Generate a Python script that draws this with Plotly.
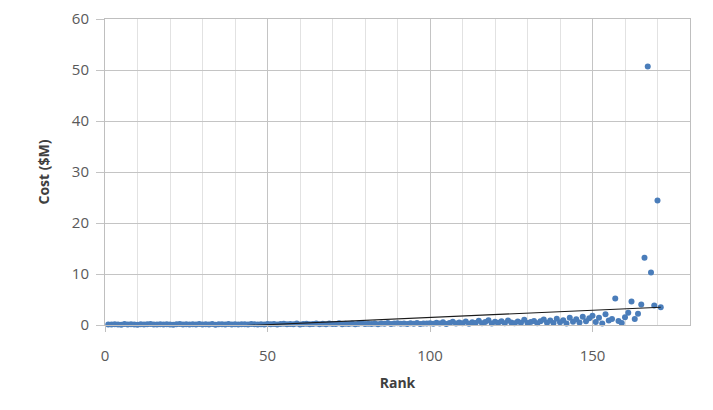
import numpy as np
import plotly.graph_objects as go

ranks = list(range(1, 172))

cost_1_50 = [0.12, 0.08, 0.15, 0.10, 0.05, 0.18, 0.09, 0.14, 0.11, 0.07,
             0.16, 0.10, 0.13, 0.20, 0.08, 0.12, 0.17, 0.09, 0.14, 0.11,
             0.06, 0.15, 0.19, 0.10, 0.13, 0.08, 0.16, 0.12, 0.21, 0.09,
             0.14, 0.11, 0.18, 0.07, 0.13, 0.16, 0.10, 0.22, 0.12, 0.15,
             0.09, 0.17, 0.13, 0.11, 0.20, 0.14, 0.08, 0.16, 0.12, 0.19]
cost_51_100 = [0.15, 0.22, 0.11, 0.18, 0.25, 0.13, 0.20, 0.16, 0.28, 0.12,
               0.19, 0.24, 0.14, 0.21, 0.30, 0.17, 0.23, 0.15, 0.27, 0.20,
               0.18, 0.32, 0.14, 0.25, 0.21, 0.29, 0.17, 0.24, 0.35, 0.19,
               0.26, 0.22, 0.31, 0.16, 0.28, 0.24, 0.37, 0.20, 0.27, 0.33,
               0.23, 0.30, 0.18, 0.36, 0.26, 0.40, 0.22, 0.31, 0.28, 0.34]
cost_101_149 = [0.25, 0.45, 0.30, 0.55, 0.20, 0.38, 0.62, 0.28, 0.48, 0.35,
                0.70, 0.26, 0.52, 0.40, 0.85, 0.33, 0.58, 0.95, 0.30, 0.65,
                0.42, 0.75, 0.36, 0.90, 0.50, 0.32, 0.68, 0.45, 1.05, 0.38,
                0.60, 0.80, 0.34, 0.72, 1.10, 0.46, 0.88, 0.40, 1.25, 0.55,
                0.95, 0.30, 1.40, 0.65, 1.15, 0.50, 1.60, 0.75, 1.30]
cost_150_171 = [1.80, 0.60, 1.40, 0.30, 2.10, 0.90, 1.20, 5.20, 0.80, 0.40,
                1.50, 2.40, 4.60, 1.20, 2.20, 4.00, 13.20, 50.70, 10.30, 3.80,
                24.40, 3.50]

cost = cost_1_50 + cost_51_100 + cost_101_149 + cost_150_171

x_ticks = [0, 50, 100, 150]
y_ticks = [0, 10, 20, 30, 40, 50, 60]

# Linear trendline (least squares) from the data
slope, intercept = np.polyfit(ranks, cost, 1)
trend_x = [ranks[0], ranks[-1]]
trend_y = [slope * v + intercept for v in trend_x]

fig = go.Figure()
fig.add_trace(go.Scatter(
    x=ranks, y=cost, mode="markers",
    marker=dict(color="#4a7dba", size=6),
    cliponaxis=False, showlegend=False))
fig.add_trace(go.Scatter(
    x=trend_x, y=trend_y, mode="lines",
    line=dict(color="#1a1a1a", width=1.2),
    showlegend=False, hoverinfo="skip"))

axis_font = dict(family="Open Sans, Arial, sans-serif", size=15, color="#595959")
title_font = dict(family="Open Sans, Arial, sans-serif", size=14, color="#404040")

fig.update_layout(
    width=705, height=402,
    margin=dict(l=97, r=23, t=11, b=85),
    paper_bgcolor="white", plot_bgcolor="white",
    font=axis_font,
    xaxis=dict(
        range=[0, 180], tickvals=x_ticks, ticktext=[str(v) for v in x_ticks],
        showgrid=True, gridcolor="#c4c4c4", gridwidth=1,
        minor=dict(dtick=10, showgrid=True, gridcolor="#e2e2e2", gridwidth=1),
        showline=True, linecolor="#bfbfbf", mirror=True,
        ticks="outside", ticklen=6, tickcolor="#bfbfbf",
        ticklabelstandoff=11, zeroline=False, automargin=False,
        title=dict(text="<b>Rank</b>", font=title_font, standoff=14),
        tickfont=axis_font),
    yaxis=dict(
        range=[0, 60], tickvals=y_ticks, ticktext=[str(v) for v in y_ticks],
        showgrid=True, gridcolor="#c4c4c4", gridwidth=1,
        showline=True, linecolor="#bfbfbf", mirror=True,
        ticks="outside", ticklen=8, tickcolor="#c4c4c4",
        ticklabelstandoff=4, zeroline=False, automargin=False,
        title=dict(text="<b>Cost ($M)</b>", font=title_font, standoff=18),
        tickfont=axis_font),
)

fig.write_html("out.html")
